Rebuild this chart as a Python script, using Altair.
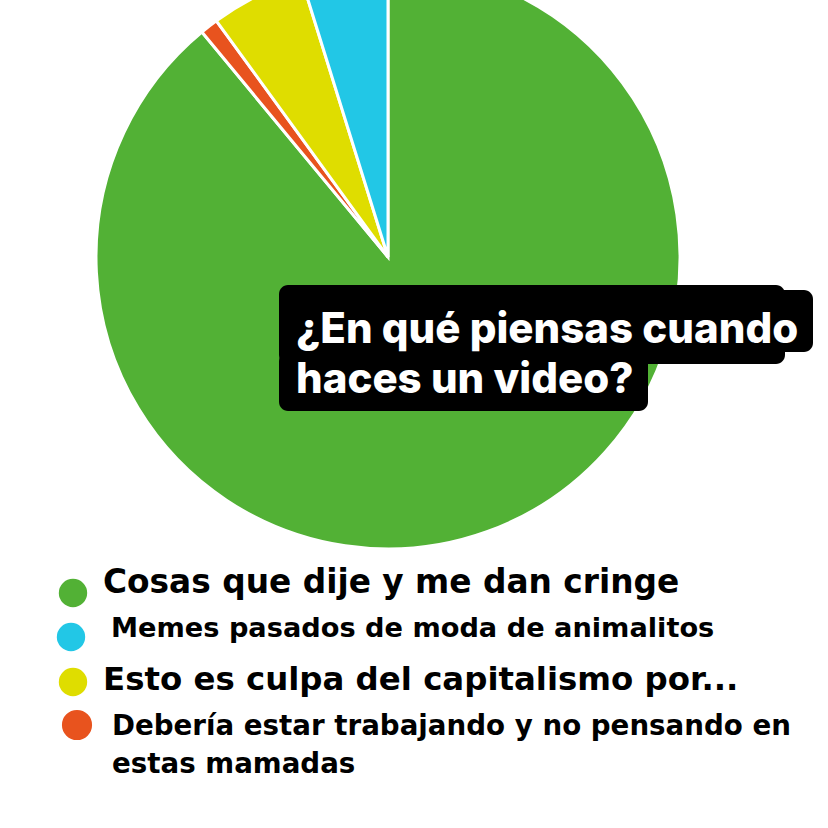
import altair as alt
import pandas as pd

# ---- data ----
categories = [
    "Cosas que dije y me dan cringe",
    "Debería estar trabajando y no pensando en estas mamadas",
    "Esto es culpa del capitalismo por...",
    "Memes pasados de moda de animalitos",
]
values = [89.0, 1.0, 5.2, 4.8]
colors = ["#52B135", "#E8531E", "#DFDD00", "#22C7E6"]

legend_order = [0, 3, 2, 1]  # green, cyan, yellow, red
legend_lines = [
    ["Cosas que dije y me dan cringe"],
    ["Memes pasados de moda de animalitos"],
    ["Esto es culpa del capitalismo por..."],
    ["Debería estar trabajando y no pensando en", "estas mamadas"],
]
title_lines = ["¿En qué piensas cuando", "haces un video?"]

TITLE_FONT = "Inter"
LEGEND_FONT = "DejaVu Sans"

pie_df = pd.DataFrame({"category": categories, "value": values, "rank": list(range(len(categories)))})
one = pd.DataFrame({"a": [0]})

pie = alt.Chart(pie_df).mark_arc(outerRadius=292, stroke="white", strokeWidth=3).encode(
    theta=alt.Theta("value:Q", stack=True),
    color=alt.Color("category:N", scale=alt.Scale(domain=categories, range=colors), legend=None),
    order=alt.Order("rank:Q"),
    x=alt.value(388),
    y=alt.value(257),
)

layers = [pie]

# title boxes
boxes = [
    (279, 785, 285, 364),
    (279, 813, 290, 352),
    (279, 648, 352, 411),
]
for x1, x2, y1, y2 in boxes:
    layers.append(
        alt.Chart(one).mark_rect(color="black", cornerRadius=9).encode(
            x=alt.value(x1), x2=alt.value(x2), y=alt.value(y1), y2=alt.value(y2)
        )
    )

for txt, yb in zip(title_lines, [343, 393]):
    layers.append(
        alt.Chart(one).mark_text(
            text=txt, font=TITLE_FONT, fontSize=42, fontWeight=800, color="white",
            align="left", baseline="alphabetic"
        ).encode(x=alt.value(296), y=alt.value(yb))
    )

# legend
dot_pos = [(73, 593, 16), (71, 637, 16), (73, 682, 16), (77, 725, 17)]
text_specs = [
    [(103, 593, 32.8)],
    [(111, 637, 27.2)],
    [(103, 690, 32.4)],
    [(112, 735, 27.7), (112, 773, 27.7)],
]
for idx, (cx, cy, r), lines, specs in zip(legend_order, dot_pos, legend_lines, text_specs):
    layers.append(
        alt.Chart(one).mark_circle(color=colors[idx], opacity=1, size=3.1416 * r * r).encode(
            x=alt.value(cx), y=alt.value(cy)
        )
    )
    for line, (tx, ty, fs) in zip(lines, specs):
        layers.append(
            alt.Chart(one).mark_text(
                text=line, font=LEGEND_FONT, fontSize=fs, fontWeight="bold", color="black",
                align="left", baseline="alphabetic"
            ).encode(x=alt.value(tx), y=alt.value(ty))
        )

chart = alt.layer(*layers).properties(
    width=828, height=828, autosize=alt.AutoSizeParams(type="none"), padding=0, background="white"
).configure_view(stroke=None)

chart.save("out.html", embed_options={"renderer": "svg", "actions": False})
